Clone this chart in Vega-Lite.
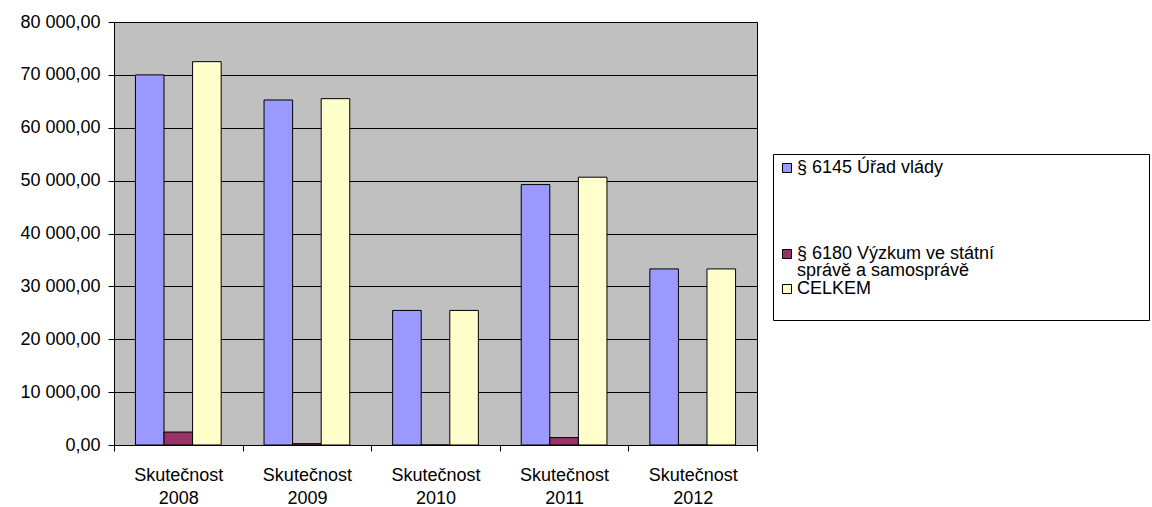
{
  "$schema": "https://vega.github.io/schema/vega-lite/v6.json",
  "width": 643,
  "height": 423,
  "autosize": {"type": "none"},
  "padding": {"left": 114, "top": 22, "right": 395, "bottom": 62},
  "background": "white",
  "config": {
    "font": "Liberation Sans",
    "locale": {"number": {"decimal": ",", "thousands": " ", "grouping": [3], "currency": ["", ""]}},
    "view": {"fill": "#C0C0C0", "stroke": "black", "strokeWidth": 1}
  },
  "data": {
    "values": [
      {"period": "Skutečnost 2008", "series": "§ 6145 Úřad vlády", "value": 70000},
      {"period": "Skutečnost 2008", "series": "§ 6180 Výzkum ve státní správě a samosprávě", "value": 2450},
      {"period": "Skutečnost 2008", "series": "CELKEM", "value": 72500},
      {"period": "Skutečnost 2009", "series": "§ 6145 Úřad vlády", "value": 65250},
      {"period": "Skutečnost 2009", "series": "§ 6180 Výzkum ve státní správě a samosprávě", "value": 250},
      {"period": "Skutečnost 2009", "series": "CELKEM", "value": 65500},
      {"period": "Skutečnost 2010", "series": "§ 6145 Úřad vlády", "value": 25450},
      {"period": "Skutečnost 2010", "series": "§ 6180 Výzkum ve státní správě a samosprávě", "value": 0},
      {"period": "Skutečnost 2010", "series": "CELKEM", "value": 25450},
      {"period": "Skutečnost 2011", "series": "§ 6145 Úřad vlády", "value": 49250},
      {"period": "Skutečnost 2011", "series": "§ 6180 Výzkum ve státní správě a samosprávě", "value": 1400},
      {"period": "Skutečnost 2011", "series": "CELKEM", "value": 50650},
      {"period": "Skutečnost 2012", "series": "§ 6145 Úřad vlády", "value": 33300},
      {"period": "Skutečnost 2012", "series": "§ 6180 Výzkum ve státní správě a samosprávě", "value": 0},
      {"period": "Skutečnost 2012", "series": "CELKEM", "value": 33300}
    ]
  },
  "mark": {"type": "bar", "stroke": "black", "strokeWidth": 1, "strokeOpacity": 1},
  "encoding": {
    "x": {
      "field": "period",
      "type": "nominal",
      "sort": null,
      "scale": {"paddingInner": 0, "paddingOuter": 0},
      "axis": {
        "title": null,
        "labelAngle": 0,
        "labelExpr": "split(datum.label, ' ')",
        "labelFontSize": 18,
        "labelColor": "black",
        "labelLineHeight": 23,
        "labelPadding": 15,
        "labelBaseline": "top",
        "tickBand": "extent",
        "tickColor": "black",
        "tickSize": 6,
        "domainColor": "black",
        "grid": false
      }
    },
    "xOffset": {
      "field": "series",
      "type": "nominal",
      "sort": null,
      "scale": {"paddingInner": 0, "paddingOuter": 0.75}
    },
    "y": {
      "field": "value",
      "type": "quantitative",
      "scale": {"domain": [0, 80000], "nice": false},
      "axis": {
        "title": null,
        "values": [0, 10000, 20000, 30000, 40000, 50000, 60000, 70000, 80000],
        "format": ",.2f",
        "labelFontSize": 18,
        "labelColor": "black",
        "labelPadding": 8,
        "tickColor": "black",
        "tickSize": 6,
        "domainColor": "black",
        "grid": true,
        "gridColor": "black",
        "gridOpacity": 1,
        "gridWidth": 1
      }
    },
    "color": {
      "field": "series",
      "type": "nominal",
      "scale": {
        "domain": ["§ 6145 Úřad vlády", "§ 6180 Výzkum ve státní správě a samosprávě", "CELKEM"],
        "range": ["#9999FF", "#993366", "#FFFFCC"]
      },
      "legend": {
        "title": "\u00a0",
        "titleOrient": "right",
        "titlePadding": 150,
        "titleFontSize": 1,
        "orient": "none",
        "legendX": 659,
        "legendY": 132,
        "direction": "vertical",
        "fillColor": "white",
        "strokeColor": "black",
        "padding": 5,
        "symbolType": "square",
        "symbolSize": 81,
        "symbolStrokeColor": "black",
        "symbolStrokeWidth": 1,
        "labelFontSize": 18,
        "labelColor": "black",
        "labelBaseline": "top",
        "labelLimit": 600,
        "labelOffset": 1,
        "rowPadding": -8,
        "labelExpr": "datum.label == 'CELKEM' ? [datum.label, ''] : (indexof(datum.label, '6180') >= 0 ? ['§ 6180 Výzkum ve státní', 'správě a samosprávě'] : [datum.label, '', '', '', ''])",
        "encode": {
          "labels": {"update": {"lineHeight": {"value": 17}, "dy": {"value": -9}}}
        }
      }
    }
  }
}
